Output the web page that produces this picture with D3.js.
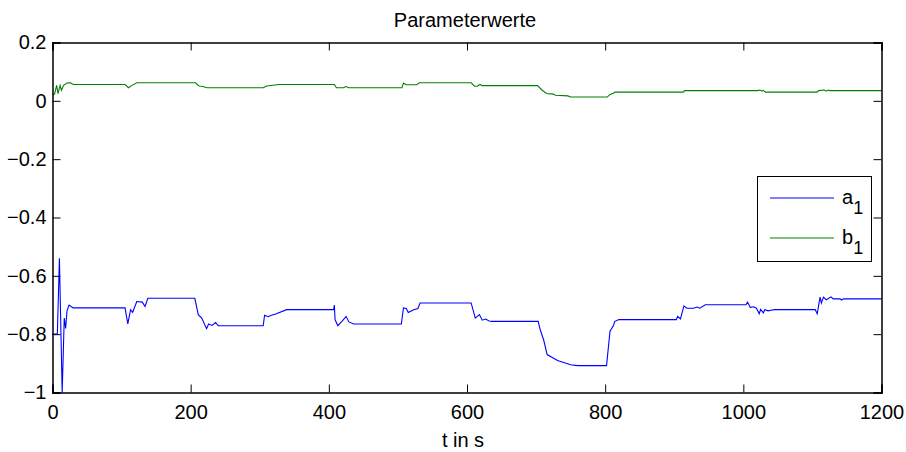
<!DOCTYPE html>
<html>
<head>
<meta charset="utf-8">
<script src="https://cdn.jsdelivr.net/npm/d3@7"></script>
<style>
  body { margin: 0; background: #fff; }
  text { font-family: "Liberation Sans", Arial, sans-serif; fill: #000; }
</style>
</head>
<body>
<script>
// a_1 (blue) breakpoints
let tA = [0, 7, 10, 14, 17, 19, 21, 24, 30, 105, 109, 113, 116, 122, 130, 134, 138, 206, 211, 216, 223, 226, 231, 236, 240,
  305, 307, 312, 317, 324, 339, 407, 408, 409, 413, 419, 425, 429, 436, 505, 508, 512, 515, 522, 529, 532,
  606, 612, 618, 622, 627, 632, 636, 703, 706, 711, 716, 731, 750, 760, 802, 807, 812, 814, 820, 903, 905, 909, 914, 918,
  928, 933, 937, 945, 1004, 1006, 1010, 1015, 1019, 1023, 1025, 1029, 1031, 1036, 1040, 1045, 1104, 1107, 1111, 1113, 1116,
  1120, 1127, 1130, 1140, 1142, 1145, 1200];
let a1 = [-0.80, -0.80, -0.54, -1.0, -0.745, -0.78, -0.72, -0.70, -0.71, -0.71, -0.765, -0.716, -0.725, -0.688, -0.69, -0.705, -0.677, -0.677, -0.733, -0.745, -0.781, -0.765, -0.77, -0.76, -0.771,
  -0.771, -0.735, -0.74, -0.735, -0.73, -0.716, -0.716, -0.70, -0.75, -0.771, -0.756, -0.739, -0.758, -0.765, -0.765, -0.71, -0.712, -0.726, -0.717, -0.712, -0.693,
  -0.693, -0.745, -0.733, -0.752, -0.748, -0.755, -0.756, -0.756, -0.785, -0.82, -0.87, -0.89, -0.905, -0.908, -0.908, -0.79, -0.77, -0.756, -0.75, -0.75, -0.739, -0.748, -0.703, -0.711,
  -0.711, -0.707, -0.711, -0.699, -0.699, -0.69, -0.708, -0.706, -0.711, -0.73, -0.715, -0.727, -0.716, -0.72, -0.718, -0.716, -0.716, -0.73, -0.673, -0.693, -0.673,
  -0.682, -0.672, -0.679, -0.679, -0.683, -0.679, -0.679];

// b_1 (green) breakpoints
let tB = [0, 3, 6, 8, 11, 13, 16, 21, 26, 30, 105, 110, 115, 122, 207, 212, 216, 224, 305, 310, 328, 408, 411, 421, 425, 429,
  506, 508, 512, 527, 531, 606, 611, 615, 619, 622, 702, 708, 715, 725, 728, 746, 750, 803, 807, 812, 814, 913, 915,
  1021, 1024, 1027, 1029, 1032, 1107, 1109, 1117, 1120, 1123, 1125, 1200];
let b1 = [0.021, 0.023, 0.053, 0.025, 0.053, 0.036, 0.053, 0.061, 0.062, 0.056, 0.056, 0.045, 0.053, 0.062, 0.062, 0.051, 0.050, 0.045, 0.045, 0.051, 0.056, 0.056, 0.045, 0.045, 0.049, 0.045,
  0.045, 0.061, 0.055, 0.055, 0.062, 0.062, 0.050, 0.050, 0.056, 0.052, 0.052, 0.038, 0.025, 0.023, 0.019, 0.017, 0.013, 0.013, 0.022, 0.026, 0.030, 0.030, 0.035,
  0.035, 0.037, 0.033, 0.036, 0.030, 0.030, 0.035, 0.037, 0.033, 0.037, 0.035, 0.035];

let xTicks = [0, 200, 400, 600, 800, 1000, 1200];
let yTicks = [0.2, 0, -0.2, -0.4, -0.6, -0.8, -1];
let seriesNames = ['a', 'b'];
let seriesColors = ['#0000ff', '#008000'];

let width = 906, height = 452;
let mLeft = 52.5, mRight = 881.5, mTop = 42.5, mBottom = 392.5;

let svg = d3.select('body').append('svg').attr('width', width).attr('height', height);

let x = d3.scaleLinear().domain([0, 1200]).range([mLeft, mRight]);
let y = d3.scaleLinear().domain([-1, 0.2]).range([mBottom, mTop]);

let line = d3.line().x(d => x(d[0])).y(d => y(d[1]));

let dataA = tA.map((t, i) => [t, a1[i]]);
let dataB = tB.map((t, i) => [t, b1[i]]);

svg.append('path').datum(dataA).attr('d', line)
  .attr('fill', 'none').attr('stroke', seriesColors[0]).attr('stroke-width', 1.1);
svg.append('path').datum(dataB).attr('d', line)
  .attr('fill', 'none').attr('stroke', seriesColors[1]).attr('stroke-width', 1.1);

// axes (MATLAB box style, ticks inward)
let fs = '20px';
let bottomAxis = d3.axisBottom(x).tickValues(xTicks).tickSize(-8).tickPadding(14).tickFormat(d3.format('d'));
let leftAxis = d3.axisLeft(y).tickValues(yTicks).tickSize(-8).tickPadding(14).tickFormat(d => d === 0 ? '0' : d3.format('')(d));
let topAxis = d3.axisTop(x).tickValues(xTicks).tickSize(-8).tickFormat('');
let rightAxis = d3.axisRight(y).tickValues(yTicks).tickSize(-8).tickFormat('');

function style(g) {
  g.select('.domain').attr('stroke', '#000').attr('stroke-width', 1.5);
  g.selectAll('.tick line').attr('stroke', '#000').attr('stroke-width', 1);
  g.selectAll('.tick text').attr('font-size', fs).attr('font-family', '"Liberation Sans", Arial, sans-serif').attr('fill', '#000');
}
svg.append('g').attr('transform', `translate(0,${mBottom})`).call(bottomAxis).call(style)
  .selectAll('.tick text').attr('dy', '0.71em').attr('y', 12);
svg.append('g').attr('transform', `translate(${mLeft},0)`).call(leftAxis).call(style)
  .selectAll('.tick text').attr('x', -6);
svg.append('g').attr('transform', `translate(0,${mTop})`).call(topAxis).call(style);
svg.append('g').attr('transform', `translate(${mRight},0)`).call(rightAxis).call(style);

// title and axis label
svg.append('text').attr('x', 465).attr('y', 27).attr('text-anchor', 'middle')
  .attr('font-size', fs).text('Parameterwerte');
svg.append('text').attr('x', 463).attr('y', 447).attr('text-anchor', 'middle')
  .attr('font-size', fs).text('t in s');

// legend
let legend = svg.append('g');
legend.append('rect').attr('x', 757.5).attr('y', 176.5).attr('width', 114).attr('height', 85)
  .attr('fill', '#fff').attr('stroke', '#000').attr('stroke-width', 1);
seriesNames.forEach(function(name, i) {
  let ly = 198 + i * 40;
  legend.append('line').attr('x1', 770).attr('x2', 834).attr('y1', ly).attr('y2', ly)
    .attr('stroke', seriesColors[i]).attr('stroke-width', 1.1);
  let t = legend.append('text').attr('x', 842).attr('y', ly + 6).attr('font-size', fs);
  t.append('tspan').text(name);
  t.append('tspan').attr('dy', 10).attr('font-size', '18px').text('1');
});
</script>
</body>
</html>
